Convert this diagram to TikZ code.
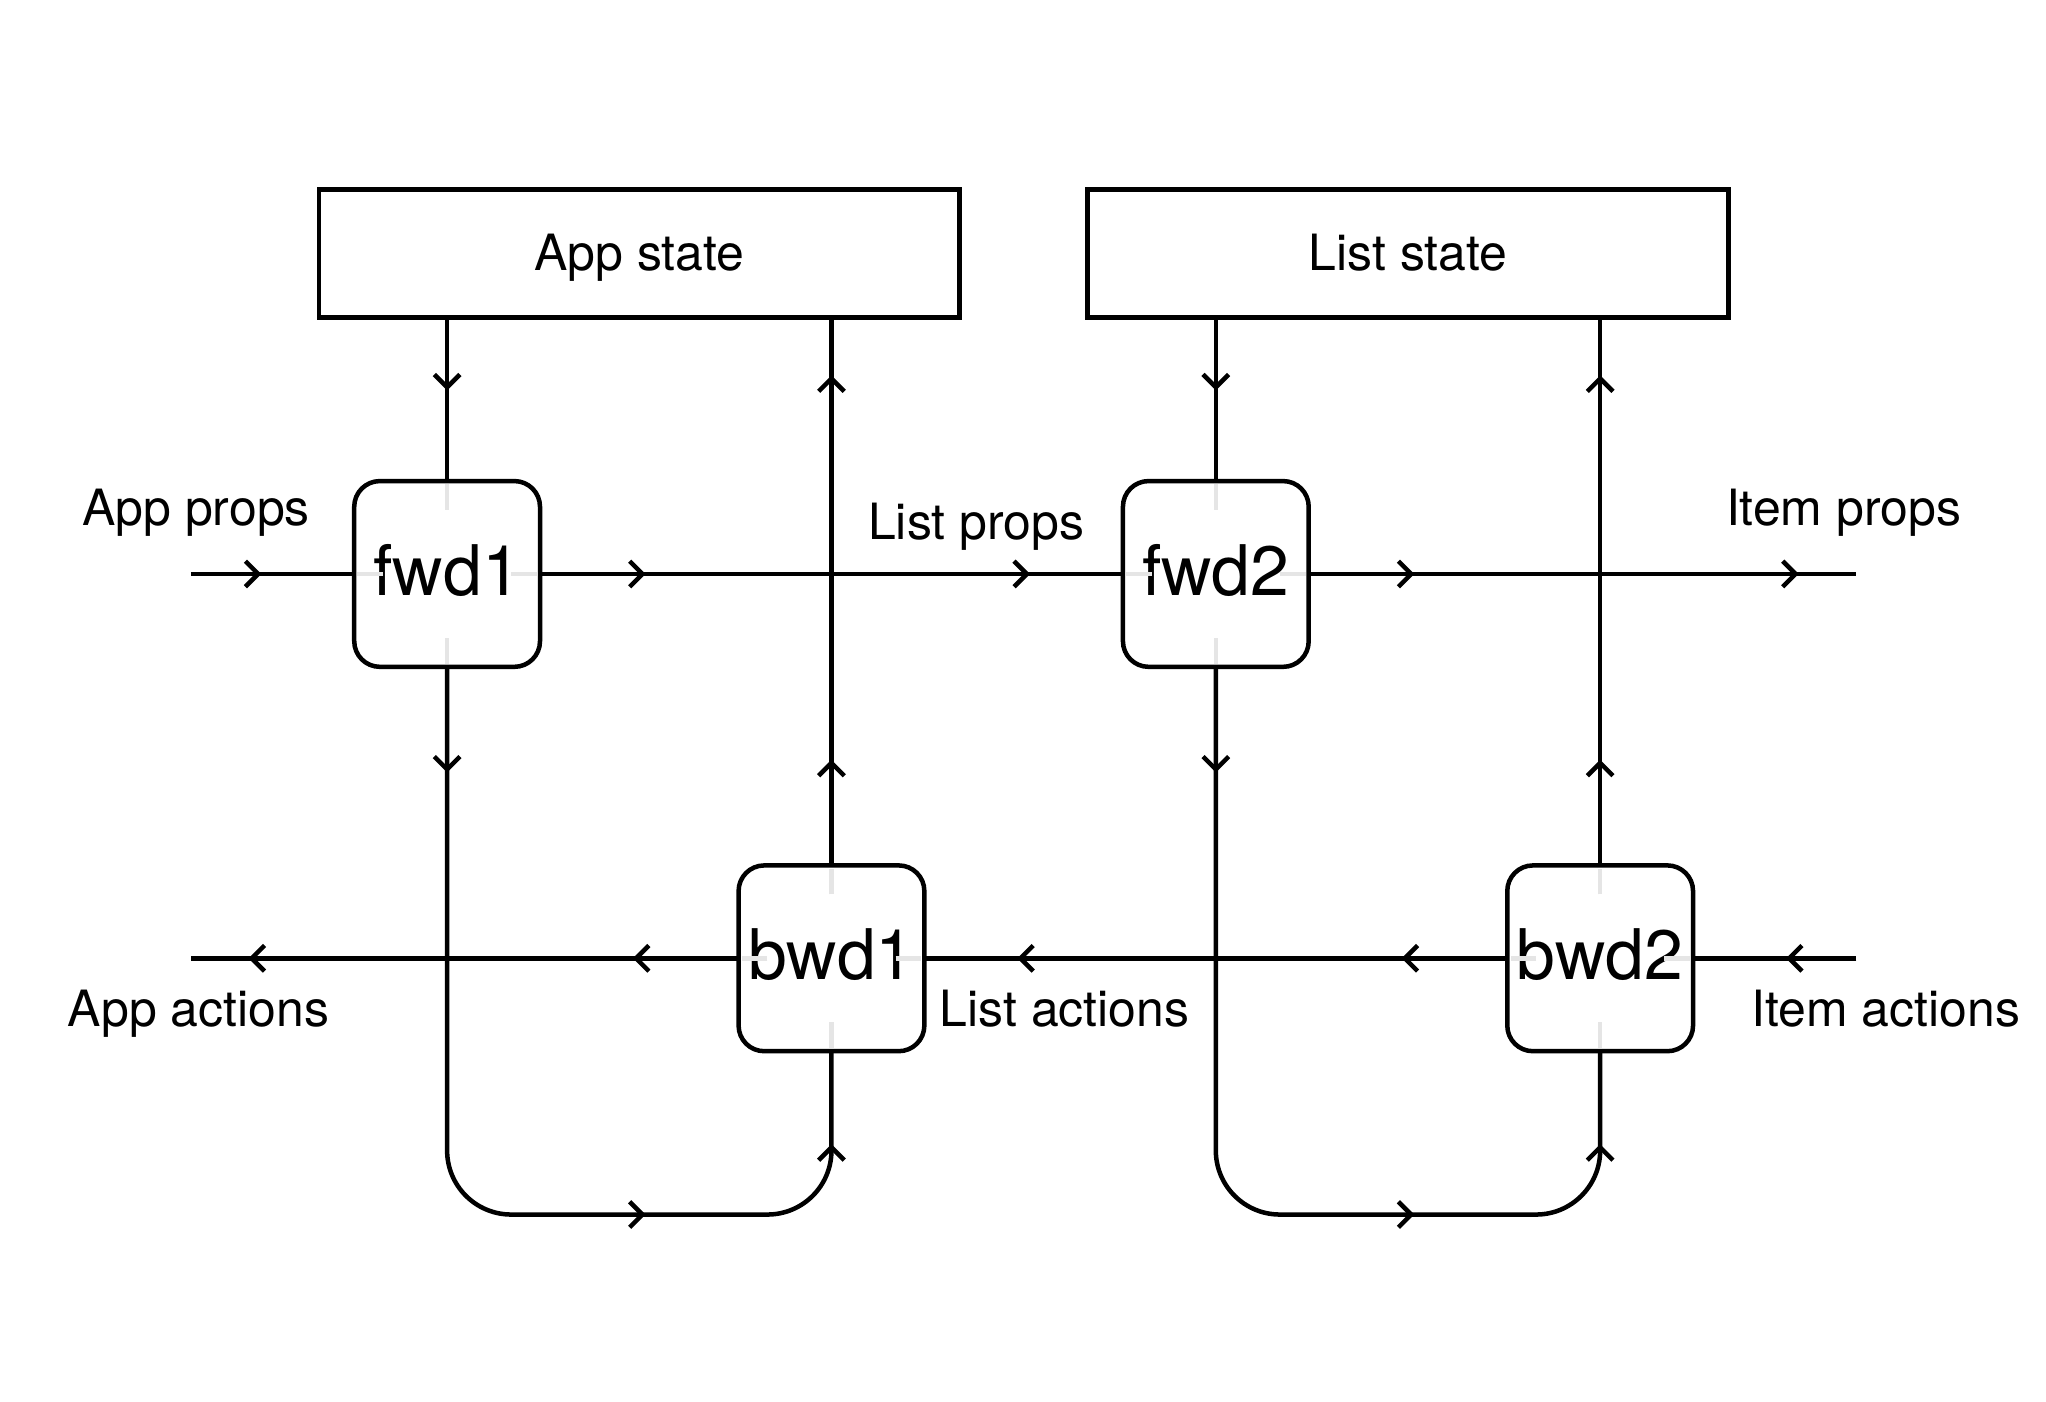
\documentclass[tikz,border=0pt]{standalone}
\usepackage{fontspec}
\setmainfont{TeX Gyre Heros}
\usetikzlibrary{arrows.meta,decorations.markings,backgrounds}
\begin{document}
\begin{tikzpicture}[
  line width=1pt,
  chev/.tip={Straight Barb[length=1mm,width=2mm]},
  statebox/.style={draw, minimum width=5cm, minimum height=1cm, inner sep=0pt,
    text height=8pt, text depth=0.6pt, font=\fontsize{11.1}{13}\selectfont},
  fnbox/.style={draw, fill=white, rounded corners=0.2cm, minimum size=1.45cm,
    inner sep=0pt, text height=11.2pt, text depth=1.8pt,
    font=\fontsize{15.5}{18}\selectfont},
  lbl/.style={anchor=base, inner sep=0pt, font=\fontsize{11.1}{13}\selectfont},
  stub/.style={draw=gray!20, line width=1pt},
  flow/.style={postaction={decorate, decoration={markings,
    mark=at position #1 with {\arrow{chev}}}}},
  wire/.style={draw, line width=1pt},
]
\path[use as bounding box] (-3.49,-6.46) rectangle (12.48,4.48);

% boxes
\node[statebox] (appstate)  at (1.5,2.5) {App state};
\node[statebox] (liststate) at (7.5,2.5) {List state};
\node[fnbox] (fwd1) at (0,0)  {fwd1};
\node[fnbox] (fwd2) at (6,0)  {fwd2};
\node[fnbox] (bwd1) at (3,-3) {bwd1};
\node[fnbox] (bwd2) at (9,-3) {bwd2};

% free ends
\coordinate (pin)  at (-2,0);
\coordinate (pout) at (11,0);
\coordinate (ain)  at (11,-3);
\coordinate (aout) at (-2,-3);
\coordinate (loopa1) at (0,-5);
\coordinate (loopb1) at (3,-5);
\coordinate (loopa2) at (6,-5);
\coordinate (loopb2) at (9,-5);

% connectors
\begin{scope}[on background layer, line width=1pt]
  \path[wire, flow=0.55cm] (pin) -- (fwd1.center);
  \path[wire, flow=1.55cm, flow=4.55cm] (fwd1.center) -- (fwd2.center);
  \path[wire, flow=1.55cm, flow=4.55cm] (fwd2.center) -- (pout);
  \path[wire, flow=0.55cm] (ain) -- (bwd2.center);
  \path[wire, flow=1.55cm, flow=4.55cm] (bwd2.center) -- (bwd1.center);
  \path[wire, flow=1.55cm, flow=4.55cm] (bwd1.center) -- (aout);
  \path[wire, flow=0.55cm] (fwd1 |- appstate.south) -- (fwd1.center);
  \path[wire, flow=0.55cm] (fwd2 |- liststate.south) -- (fwd2.center);
  \path[wire, flow=1.55cm, flow=4.55cm] (bwd1.center) -- (bwd1 |- appstate.south);
  \path[wire, flow=1.55cm, flow=4.55cm] (bwd2.center) -- (bwd2 |- liststate.south);
  \path[wire, rounded corners=0.5cm, flow=1.55cm, flow=6.335cm, flow=8.12cm]
    (fwd1.center) -- (loopa1) -- (loopb1) -- (bwd1.center);
  \path[wire, rounded corners=0.5cm, flow=1.55cm, flow=6.335cm, flow=8.12cm]
    (fwd2.center) -- (loopa2) -- (loopb2) -- (bwd2.center);
\end{scope}

% faint stubs inside the function boxes
\foreach \b in {fwd1,fwd2,bwd1,bwd2} {
  \draw[stub] ([yshift=5mm]\b.center) -- ([yshift=7mm]\b.center);
  \draw[stub] ([yshift=-5mm]\b.center) -- ([yshift=-7mm]\b.center);
  \draw[stub] ([xshift=5mm]\b.center) -- ([xshift=7mm]\b.center);
  \draw[stub] ([xshift=-5mm]\b.center) -- ([xshift=-7mm]\b.center);
}

% labels
\node[lbl] (lappprops)  at (-1.96,0.38) {App props};
\node[lbl] (llistprops) at (4.13,0.27)  {List props};
\node[lbl] (litemprops) at (10.9,0.38)  {Item props};
\node[lbl] (lappact)    at (-1.94,-3.53) {App actions};
\node[lbl] (llistact)   at (4.82,-3.53)  {List actions};
\node[lbl] (litemact)   at (11.23,-3.53) {Item actions};
\end{tikzpicture}
\end{document}
